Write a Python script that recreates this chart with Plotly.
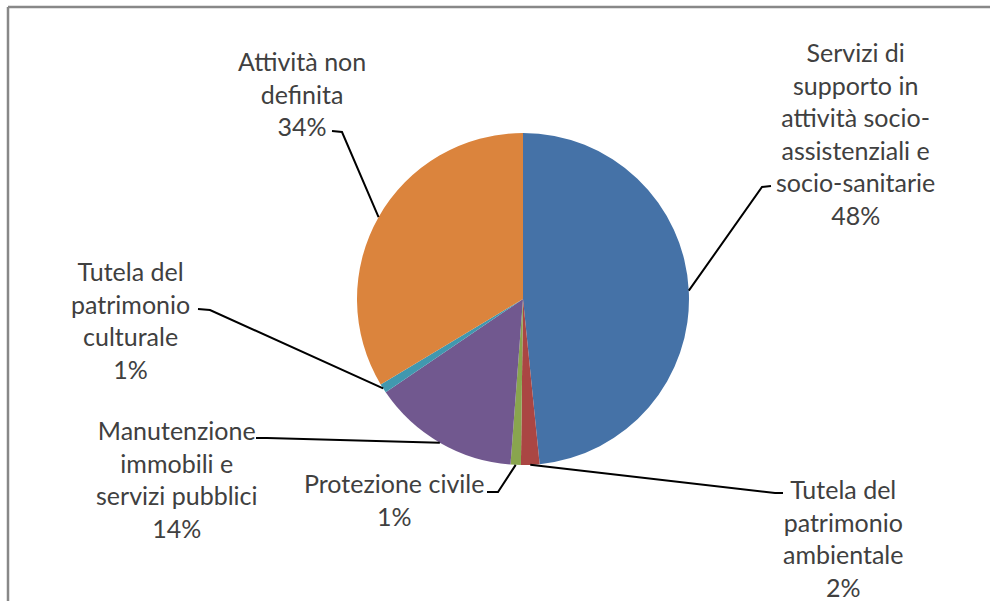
import math
import plotly.graph_objects as go

# ---- data ----
categories = [
    "Servizi di supporto in attività socio-assistenziali e socio-sanitarie",
    "Tutela del patrimonio ambientale",
    "Protezione civile",
    "Manutenzione immobili e servizi pubblici",
    "Tutela del patrimonio culturale",
    "Attività non definita",
]
label_lines = [
    ["Servizi di", "supporto in", "attività socio-", "assistenziali e", "socio-sanitarie"],
    ["Tutela del", "patrimonio", "ambientale"],
    ["Protezione civile"],
    ["Manutenzione", "immobili e", "servizi pubblici"],
    ["Tutela del", "patrimonio", "culturale"],
    ["Attività non", "definita"],
]
values = [48.4, 1.8, 1.0, 14.3, 0.9, 33.6]
colors = ["#4572A7", "#AA4643", "#89A54E", "#71588F", "#4198AF", "#DB843D"]

# ---- layout geometry (pixels) ----
W, H = 990, 601
CX, CY, R = 523, 299, 166
# label centre, leader elbow, leader end (near label)
label_pos = [(855, 133), (843, 538), (394, 499), (177, 479), (130, 320), (302, 94)]
elbows = [(762, 187), (775, 493), (498, 492), (267, 438), (210, 310), (342, 132)]
ends = [(771, 186), (783, 493), (487, 492), (256, 438), (198, 309), (332, 131)]

def px(x):
    return x / W

def py(y):
    return 1 - y / H

fig = go.Figure(
    go.Pie(
        labels=categories,
        values=values,
        marker=dict(colors=colors, line=dict(width=0)),
        sort=False,
        direction="clockwise",
        rotation=0,
        textinfo="none",
        hoverinfo="label+percent",
        showlegend=False,
        domain=dict(x=[px(CX - R), px(CX + R)], y=[py(CY + R), py(CY - R)]),
    )
)

total = sum(values)
shapes = []
annotations = []
cum = 0.0
for i, v in enumerate(values):
    mid = (cum + v / 2) / total * 2 * math.pi
    cum += v
    sx = CX + R * math.sin(mid)
    sy = CY - R * math.cos(mid)
    ex, ey = elbows[i]
    tx, ty = ends[i]
    shapes.append(dict(
        type="path", xref="paper", yref="paper",
        path=f"M {px(sx)},{py(sy)} L {px(ex)},{py(ey)} L {px(tx)},{py(ty)}",
        line=dict(color="black", width=2),
    ))
    pct = f"{round(v / total * 100)}%"
    text = "<br>".join(label_lines[i] + [pct])
    lx, ly = label_pos[i]
    annotations.append(dict(
        x=px(lx), y=py(ly), xref="paper", yref="paper",
        text=text, showarrow=False, xanchor="center", yanchor="middle",
        align="center", font=dict(family="Lato", size=25, color="#404040"),
    ))

# chart frame (top and left edges visible)
shapes.append(dict(type="line", xref="paper", yref="paper",
                   x0=px(8), y0=py(7), x1=1, y1=py(7),
                   line=dict(color="#888888", width=2.5)))
shapes.append(dict(type="line", xref="paper", yref="paper",
                   x0=px(8), y0=py(7), x1=px(8), y1=0,
                   line=dict(color="#888888", width=2.5)))

fig.update_layout(
    width=W, height=H,
    margin=dict(l=0, r=0, t=0, b=0),
    paper_bgcolor="white", plot_bgcolor="white",
    shapes=shapes, annotations=annotations,
)

fig.write_html(
    "out.html",
    config={"displayModeBar": False},
    post_script="document.body.style.margin='0';document.body.style.overflow='hidden';",
)
